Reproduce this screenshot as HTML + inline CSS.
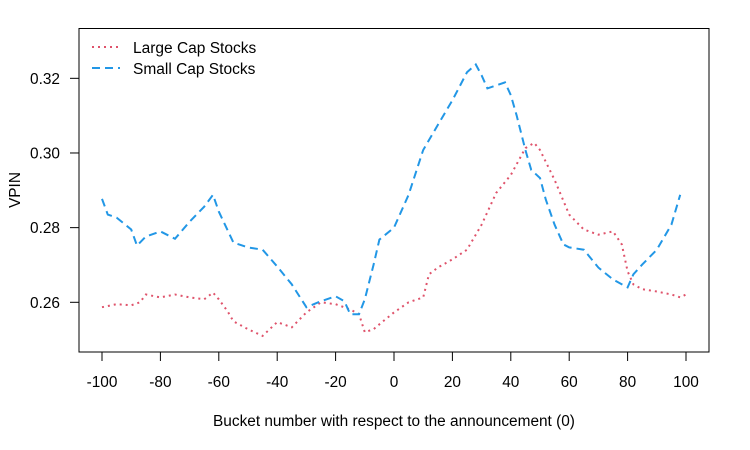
<!DOCTYPE html>
<html><head><meta charset="utf-8"><style>
body{margin:0;background:#fff;}
svg{display:block;font-family:"Liberation Sans",Arial,sans-serif;}
</style></head><body>
<svg id="chart" width="750" height="450" viewBox="0 0 750 450" xmlns="http://www.w3.org/2000/svg">
<rect x="79" y="28.5" width="630" height="323.5" fill="none" stroke="#000" stroke-width="1"/>
<g id="xaxis"></g>
<g id="yaxis"></g>
<g id="series"></g>
<text x="394" y="426" font-size="15.4" text-anchor="middle">Bucket number with respect to the announcement (0)</text>
<text x="20" y="190" font-size="15.4" text-anchor="middle" transform="rotate(-90 20 190)">VPIN</text>
<g>
<line x1="92" y1="47" x2="120" y2="47" stroke="#DF536B" stroke-width="2" stroke-dasharray="2,4"/>
<text x="133" y="53" font-size="15.5">Large Cap Stocks</text>
<line x1="92" y1="68" x2="120" y2="68" stroke="#2297E6" stroke-width="2" stroke-dasharray="8,5"/>
<text x="133" y="74" font-size="15.5">Small Cap Stocks</text>
</g>
</svg>
<script>
const xTicks=[-100,-80,-60,-40,-20,0,20,40,60,80,100];
const yTicks=[0.26,0.28,0.30,0.32];
const yTickLabels=["0.26","0.28","0.30","0.32"];
const smallX=[-100,-98,-95,-90,-88,-85,-80,-75,-70,-65,-62,-60,-55,-50,-45,-40,-35,-30,-25,-20,-17,-15,-12,-10,-7,-5,0,5,10,15,20,25,28,30,32,35,38,40,42,45,47,50,52,55,58,60,65,70,75,80,82,85,90,95,98];
const smallY=[0.2877,0.2835,0.2827,0.2795,0.2752,0.2776,0.279,0.277,0.2816,0.2856,0.2888,0.2843,0.276,0.2747,0.2741,0.2696,0.2648,0.2587,0.2603,0.2616,0.2603,0.2568,0.2568,0.2608,0.2701,0.2768,0.28,0.2888,0.3008,0.3075,0.3141,0.3216,0.3237,0.3208,0.3173,0.3181,0.3189,0.3155,0.3101,0.3008,0.2955,0.2933,0.2875,0.2808,0.2755,0.2747,0.2741,0.2693,0.2661,0.264,0.2675,0.2701,0.2741,0.2808,0.2888];
const largeX=[-100,-95,-90,-87,-85,-80,-75,-70,-65,-62,-60,-57,-55,-50,-45,-40,-35,-30,-25,-20,-15,-12,-10,-7,-5,0,5,10,12,15,20,25,30,35,40,45,48,50,55,60,65,70,75,78,80,82,85,90,95,98,100];
const largeY=[0.2587,0.2595,0.2592,0.26,0.2621,0.2613,0.2621,0.2613,0.2608,0.2626,0.2608,0.2576,0.2549,0.2528,0.251,0.2547,0.2533,0.2573,0.26,0.2595,0.2581,0.2568,0.252,0.2528,0.2541,0.2573,0.26,0.2613,0.2675,0.2693,0.2715,0.2741,0.2808,0.2893,0.2941,0.3013,0.3027,0.3008,0.2928,0.2835,0.2795,0.2781,0.279,0.2755,0.2683,0.2648,0.2635,0.2629,0.2621,0.2613,0.2621];
const NS="http://www.w3.org/2000/svg";
function sx(b){return 102+(b+100)*2.92;}
function sy(v){return 302.3-(v-0.26)*3733;}
function mk(tag,attrs,parent){const e=document.createElementNS(NS,tag);for(const k in attrs)e.setAttribute(k,attrs[k]);parent.appendChild(e);return e;}
const xa=document.getElementById('xaxis'),ya=document.getElementById('yaxis'),sg=document.getElementById('series');
xTicks.forEach(t=>{
 const l=mk('line',{x1:sx(t),x2:sx(t),y1:352,y2:361,stroke:'#000'},xa);
 
 
 const tx=mk('text',{x:sx(t),y:387,'font-size':15.4,'text-anchor':'middle'},xa);
 tx.textContent=String(t);
 
 
});
yTicks.forEach((t,i)=>{
 const l=mk('line',{x1:70,x2:79,y1:sy(t),y2:sy(t),stroke:'#000'},ya);
 
 
 const tx=mk('text',{x:60,y:sy(t)+5.5,'font-size':15.4,'text-anchor':'end'},ya);
 tx.textContent=yTickLabels[i];
 
 
});
function pts(xs,ys){return xs.map((x,i)=>sx(x).toFixed(1)+','+sy(ys[i]).toFixed(1)).join(' ');}
const lg=mk('polyline',{points:pts(largeX,largeY),fill:'none',stroke:'#DF536B','stroke-width':2,'stroke-dasharray':'2,4'},sg);


const sm=mk('polyline',{points:pts(smallX,smallY),fill:'none',stroke:'#2297E6','stroke-width':2,'stroke-dasharray':'8,5'},sg);


</script>
</body></html>
